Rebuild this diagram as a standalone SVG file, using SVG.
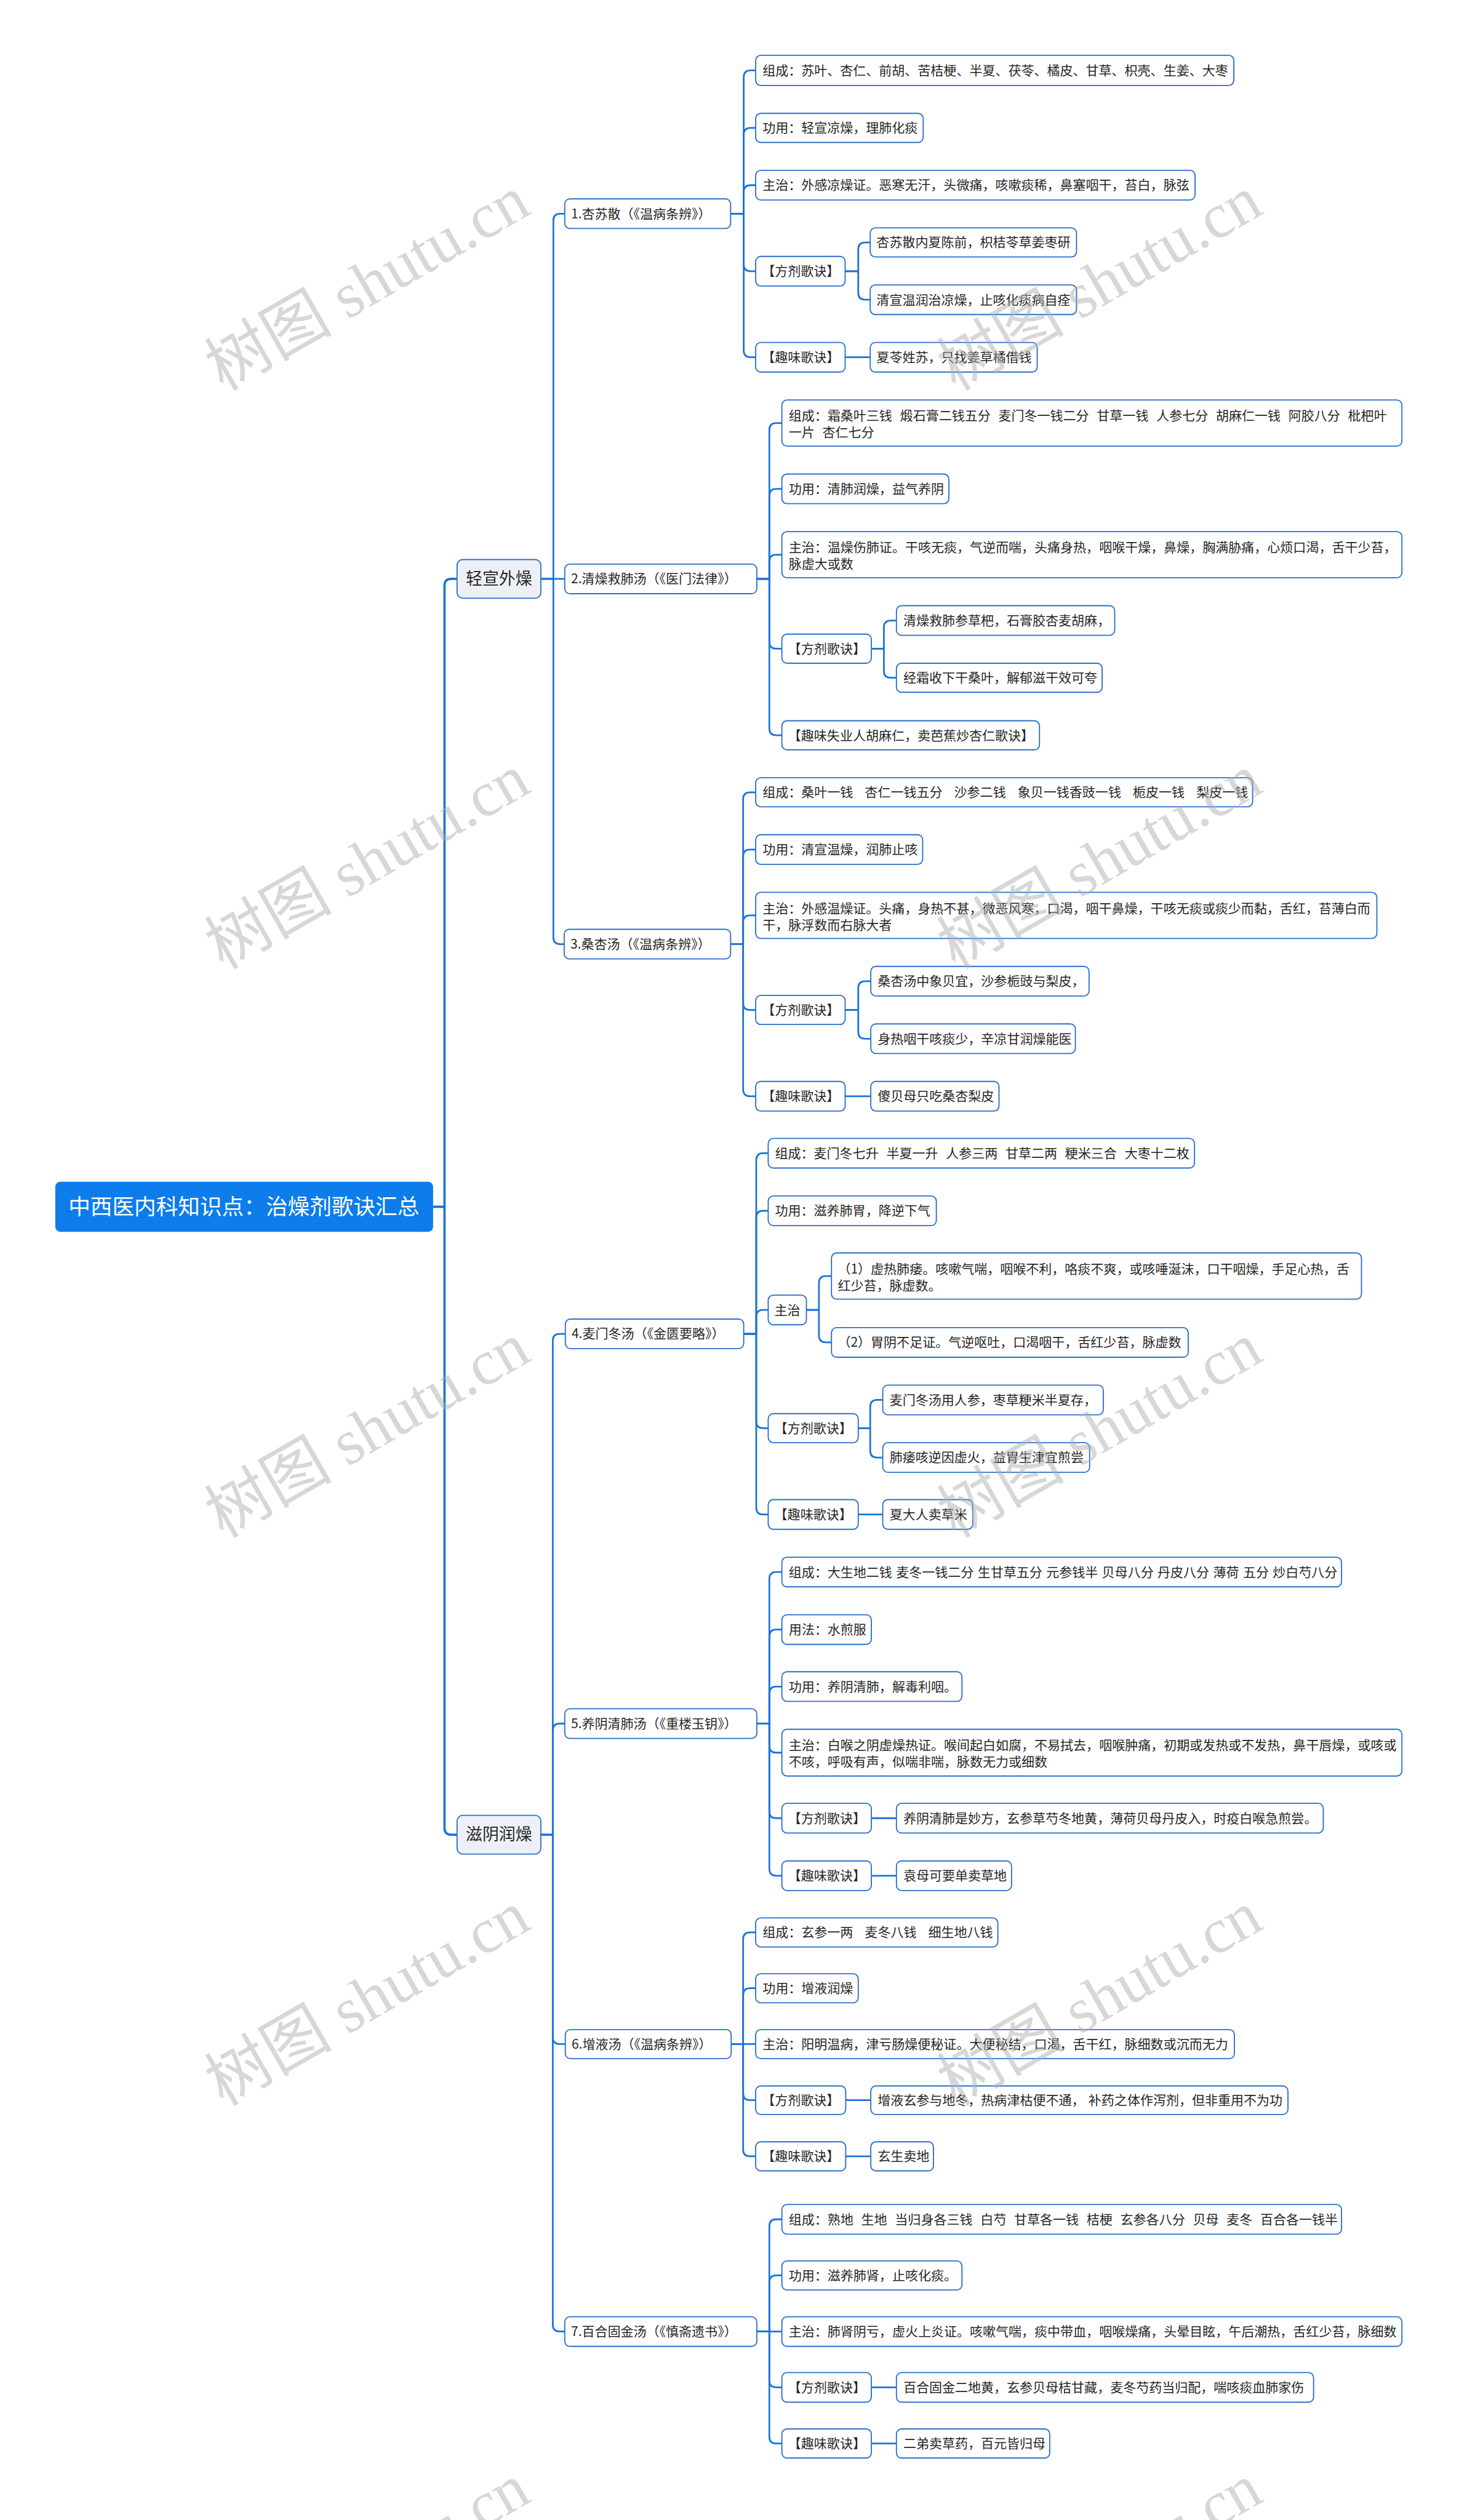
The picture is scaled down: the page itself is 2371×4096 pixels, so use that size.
<svg xmlns="http://www.w3.org/2000/svg" width="2371" height="4096" viewBox="0 0 2371 4096" xml:space="preserve">
<style>
.bg{fill:#ffffff}
.c{fill:none;stroke:#1c74d8;stroke-width:3;stroke-linejoin:round}
.c1{stroke-width:4}
.n rect{fill:#ffffff;stroke:#2a6fc9;stroke-width:2}
.l1 rect{fill:#edf1f7;stroke:#2a6fc9;stroke-width:2}
.root rect{fill:#0c7deb;stroke:none}
text{font-family:"Noto Sans CJK SC","Noto Sans",sans-serif;white-space:pre}
.t{font-size:22.7px;fill:#262626;word-spacing:1.8px}
.t1{font-size:29px;fill:#262626;text-anchor:middle}
.tr{font-size:38.5px;fill:#ffffff}
.wm{font-family:"Liberation Serif","Noto Sans CJK SC",serif;font-size:112px;fill:#b0b0b0;fill-opacity:0.5;text-anchor:middle}
</style>
<rect class="bg" x="0" y="0" width="2371" height="4096"/>
<g transform="scale(0.92612)">
<g id="connectors">
<path class="c c1" d="M760 2118 H780 V1028 Q780 1016 792 1016 H802"/>
<path class="c c1" d="M760 2118 H780 V3208 Q780 3220 792 3220 H802"/>
<path class="c" d="M949 1016 H971 V387 Q971 375 983 375 H991"/>
<path class="c" d="M949 1016 H991"/>
<path class="c" d="M949 1016 H971 V1645 Q971 1657 983 1657 H991"/>
<path class="c" d="M949 3220 H970 V2353 Q970 2341 982 2341 H992"/>
<path class="c" d="M949 3220 H970 V3037 Q970 3025 982 3025 H991"/>
<path class="c" d="M949 3220 H970 V3575.5 Q970 3587.5 982 3587.5 H992"/>
<path class="c" d="M949 3220 H970 V4080 Q970 4092 982 4092 H991"/>
<path class="c" d="M1282 375 H1305 V135.5 Q1305 123.5 1317 123.5 H1326"/>
<path class="c" d="M1282 375 H1305 V236.5 Q1305 224.5 1317 224.5 H1326"/>
<path class="c" d="M1282 375 H1305 V337 Q1305 325 1317 325 H1326"/>
<path class="c" d="M1282 375 H1305 V464 Q1305 476 1317 476 H1326"/>
<path class="c" d="M1282 375 H1305 V615 Q1305 627 1317 627 H1326"/>
<path class="c" d="M1483 476 H1506 V437.5 Q1506 425.5 1518 425.5 H1527"/>
<path class="c" d="M1483 476 H1506 V514 Q1506 526 1518 526 H1527"/>
<path class="c" d="M1483 627 H1527"/>
<path class="c" d="M1328 1016 H1350 V754.5 Q1350 742.5 1362 742.5 H1372"/>
<path class="c" d="M1328 1016 H1350 V870 Q1350 858 1362 858 H1372"/>
<path class="c" d="M1328 1016 H1350 V985.5 Q1350 973.5 1362 973.5 H1372"/>
<path class="c" d="M1328 1016 H1350 V1126.5 Q1350 1138.5 1362 1138.5 H1372"/>
<path class="c" d="M1328 1016 H1350 V1278.5 Q1350 1290.5 1362 1290.5 H1372"/>
<path class="c" d="M1529 1138.5 H1551 V1101 Q1551 1089 1563 1089 H1573"/>
<path class="c" d="M1529 1138.5 H1551 V1177.5 Q1551 1189.5 1563 1189.5 H1573"/>
<path class="c" d="M1282 1657 H1304 V1402.5 Q1304 1390.5 1316 1390.5 H1326"/>
<path class="c" d="M1282 1657 H1304 V1503 Q1304 1491 1316 1491 H1326"/>
<path class="c" d="M1282 1657 H1304 V1618.5 Q1304 1606.5 1316 1606.5 H1326"/>
<path class="c" d="M1282 1657 H1304 V1760.5 Q1304 1772.5 1316 1772.5 H1326"/>
<path class="c" d="M1282 1657 H1304 V1912 Q1304 1924 1316 1924 H1326"/>
<path class="c" d="M1483 1772.5 H1506 V1734 Q1506 1722 1518 1722 H1528"/>
<path class="c" d="M1483 1772.5 H1506 V1811 Q1506 1823 1518 1823 H1528"/>
<path class="c" d="M1483 1924 H1528"/>
<path class="c" d="M1305 2341 H1327 V2036 Q1327 2024 1339 2024 H1348"/>
<path class="c" d="M1305 2341 H1327 V2137 Q1327 2125 1339 2125 H1348"/>
<path class="c" d="M1305 2341 H1327 V2311 Q1327 2299 1339 2299 H1348"/>
<path class="c" d="M1305 2341 H1327 V2494.5 Q1327 2506.5 1339 2506.5 H1348"/>
<path class="c" d="M1305 2341 H1327 V2646 Q1327 2658 1339 2658 H1348"/>
<path class="c" d="M1415 2299 H1437 V2251.5 Q1437 2239.5 1449 2239.5 H1459"/>
<path class="c" d="M1415 2299 H1437 V2344 Q1437 2356 1449 2356 H1459"/>
<path class="c" d="M1506 2506.5 H1527 V2469 Q1527 2457 1539 2457 H1549"/>
<path class="c" d="M1506 2506.5 H1527 V2546 Q1527 2558 1539 2558 H1549"/>
<path class="c" d="M1506 2658 H1549"/>
<path class="c" d="M1328 3025 H1350 V2771 Q1350 2759 1362 2759 H1372"/>
<path class="c" d="M1328 3025 H1350 V2872 Q1350 2860 1362 2860 H1372"/>
<path class="c" d="M1328 3025 H1350 V2972 Q1350 2960 1362 2960 H1372"/>
<path class="c" d="M1328 3025 H1350 V3064 Q1350 3076 1362 3076 H1372"/>
<path class="c" d="M1328 3025 H1350 V3179 Q1350 3191 1362 3191 H1372"/>
<path class="c" d="M1328 3025 H1350 V3280 Q1350 3292 1362 3292 H1372"/>
<path class="c" d="M1529 3191 H1573"/>
<path class="c" d="M1529 3292 H1573"/>
<path class="c" d="M1283 3587.5 H1304 V3403.5 Q1304 3391.5 1316 3391.5 H1326"/>
<path class="c" d="M1283 3587.5 H1304 V3501.5 Q1304 3489.5 1316 3489.5 H1326"/>
<path class="c" d="M1283 3587.5 H1326"/>
<path class="c" d="M1283 3587.5 H1304 V3674 Q1304 3686 1316 3686 H1326"/>
<path class="c" d="M1283 3587.5 H1304 V3772.5 Q1304 3784.5 1316 3784.5 H1326"/>
<path class="c" d="M1484 3686 H1528"/>
<path class="c" d="M1484 3784.5 H1528"/>
<path class="c" d="M1328 4092 H1350 V3907 Q1350 3895 1362 3895 H1372"/>
<path class="c" d="M1328 4092 H1350 V4005.5 Q1350 3993.5 1362 3993.5 H1372"/>
<path class="c" d="M1328 4092 H1372"/>
<path class="c" d="M1328 4092 H1350 V4178 Q1350 4190 1362 4190 H1372"/>
<path class="c" d="M1328 4092 H1350 V4276.5 Q1350 4288.5 1362 4288.5 H1372"/>
<path class="c" d="M1529 4190 H1573"/>
<path class="c" d="M1529 4288.5 H1573"/>
</g>

<g id="root" class="root"><rect x="97" y="2074" width="663" height="88" rx="9"/><text class="tr" x="120" y="2131">中西医内科知识点：治燥剂歌诀汇总</text></g>

<g id="l1a" class="l1"><rect x="802" y="982" width="147" height="68" rx="10"/><text class="t1" x="875.5" y="1026">轻宣外燥</text></g>
<g id="l1b" class="l1"><rect x="802" y="3186" width="147" height="68" rx="10"/><text class="t1" x="875.5" y="3230">滋阴润燥</text></g>

<g id="s1" class="n"><rect x="991" y="349" width="291" height="52" rx="9"/><text class="t" x="1002" y="383">1.杏苏散（《温病条辨》）</text></g>
<g id="s1a" class="n"><rect x="1326" y="97" width="839" height="53" rx="9"/><text class="t" x="1338" y="131.5">组成：苏叶、杏仁、前胡、苦桔梗、半夏、茯苓、橘皮、甘草、枳壳、生姜、大枣</text></g>
<g id="s1b" class="n"><rect x="1326" y="199" width="294" height="51" rx="9"/><text class="t" x="1338" y="232.5">功用：轻宣凉燥，理肺化痰</text></g>
<g id="s1c" class="n"><rect x="1326" y="299" width="771" height="52" rx="9"/><text class="t" x="1338" y="333">主治：外感凉燥证。恶寒无汗，头微痛，咳嗽痰稀，鼻塞咽干，苔白，脉弦</text></g>
<g id="s1d" class="n"><rect x="1326" y="450" width="157" height="52" rx="9"/><text class="t" x="1337" y="484">【方剂歌诀】</text></g>
<g id="s1d1" class="n"><rect x="1527" y="400" width="362" height="51" rx="9"/><text class="t" x="1538" y="433.5">杏苏散内夏陈前，枳桔苓草姜枣研</text></g>
<g id="s1d2" class="n"><rect x="1527" y="500" width="362" height="52" rx="9"/><text class="t" x="1538" y="534">清宣温润治凉燥，止咳化痰病自痊</text></g>
<g id="s1e" class="n"><rect x="1326" y="601" width="157" height="52" rx="9"/><text class="t" x="1337" y="635">【趣味歌诀】</text></g>
<g id="s1e1" class="n"><rect x="1527" y="601" width="293" height="52" rx="9"/><text class="t" x="1538" y="635">夏苓姓苏，只找姜草橘借钱</text></g>

<g id="s2" class="n"><rect x="991" y="990" width="337" height="52" rx="9"/><text class="t" x="1002" y="1024">2.清燥救肺汤（《医门法律》）</text></g>
<g id="s2a" class="n"><rect x="1372" y="702" width="1088" height="81" rx="9"/><text class="t" x="1384" y="738">组成：霜桑叶三钱  煅石膏二钱五分  麦门冬一钱二分  甘草一钱  人参七分  胡麻仁一钱  阿胶八分  枇杷叶</text><text class="t" x="1384" y="767">一片  杏仁七分</text></g>
<g id="s2b" class="n"><rect x="1372" y="832" width="293" height="52" rx="9"/><text class="t" x="1384" y="866">功用：清肺润燥，益气养阴</text></g>
<g id="s2c" class="n"><rect x="1372" y="933" width="1088" height="81" rx="9"/><text class="t" x="1384" y="969">主治：温燥伤肺证。干咳无痰，气逆而喘，头痛身热，咽喉干燥，鼻燥，胸满胁痛，心烦口渴，舌干少苔，</text><text class="t" x="1384" y="998">脉虚大或数</text></g>
<g id="s2d" class="n"><rect x="1372" y="1113" width="157" height="51" rx="9"/><text class="t" x="1383" y="1146.5">【方剂歌诀】</text></g>
<g id="s2d1" class="n"><rect x="1573" y="1063" width="383" height="52" rx="9"/><text class="t" x="1585" y="1097">清燥救肺参草杷，石膏胶杏麦胡麻，</text></g>
<g id="s2d2" class="n"><rect x="1573" y="1164" width="361" height="51" rx="9"/><text class="t" x="1585" y="1197.5">经霜收下干桑叶，解郁滋干效可夸</text></g>
<g id="s2e" class="n"><rect x="1372" y="1265" width="452" height="51" rx="9"/><text class="t" x="1383" y="1298.5">【趣味失业人胡麻仁，卖芭蕉炒杏仁歌诀】</text></g>

<g id="s3" class="n"><rect x="990" y="1631" width="292" height="52" rx="9"/><text class="t" x="1001" y="1665">3.桑杏汤（《温病条辨》）</text></g>
<g id="s3a" class="n"><rect x="1326" y="1365" width="872" height="51" rx="9"/><text class="t" x="1338" y="1398.5">组成：桑叶一钱   杏仁一钱五分   沙参二钱   象贝一钱香豉一钱   栀皮一钱   梨皮一钱</text></g>
<g id="s3b" class="n"><rect x="1326" y="1465" width="293" height="52" rx="9"/><text class="t" x="1338" y="1499">功用：清宣温燥，润肺止咳</text></g>
<g id="s3c" class="n"><rect x="1326" y="1566" width="1090" height="81" rx="9"/><text class="t" x="1338" y="1602">主治：外感温燥证。头痛，身热不甚，微恶风寒，口渴，咽干鼻燥，干咳无痰或痰少而黏，舌红，苔薄白而</text><text class="t" x="1338" y="1631">干，脉浮数而右脉大者</text></g>
<g id="s3d" class="n"><rect x="1326" y="1747" width="157" height="51" rx="9"/><text class="t" x="1337" y="1780.5">【方剂歌诀】</text></g>
<g id="s3d1" class="n"><rect x="1528" y="1696" width="383" height="52" rx="9"/><text class="t" x="1540" y="1730">桑杏汤中象贝宜，沙参栀豉与梨皮，</text></g>
<g id="s3d2" class="n"><rect x="1528" y="1797" width="359" height="52" rx="9"/><text class="t" x="1540" y="1831">身热咽干咳痰少，辛凉甘润燥能医</text></g>
<g id="s3e" class="n"><rect x="1326" y="1898" width="157" height="52" rx="9"/><text class="t" x="1337" y="1932">【趣味歌诀】</text></g>
<g id="s3e1" class="n"><rect x="1528" y="1898" width="225" height="52" rx="9"/><text class="t" x="1540" y="1932">傻贝母只吃桑杏梨皮</text></g>

<g id="s4" class="n"><rect x="992" y="2315" width="313" height="52" rx="9"/><text class="t" x="1003" y="2349">4.麦门冬汤（《金匮要略》）</text></g>
<g id="s4a" class="n"><rect x="1348" y="1998" width="748" height="52" rx="9"/><text class="t" x="1360" y="2032">组成：麦门冬七升  半夏一升  人参三两  甘草二两  粳米三合  大枣十二枚</text></g>
<g id="s4b" class="n"><rect x="1348" y="2099" width="295" height="52" rx="9"/><text class="t" x="1360" y="2133">功用：滋养肺胃，降逆下气</text></g>
<g id="s4c" class="n"><rect x="1348" y="2273" width="67" height="52" rx="9"/><text class="t" x="1359" y="2307">主治</text></g>
<g id="s4c1" class="n"><rect x="1459" y="2199" width="930" height="81" rx="9"/><text class="t" x="1470" y="2235">（1）虚热肺痿。咳嗽气喘，咽喉不利，咯痰不爽，或咳唾涎沫，口干咽燥，手足心热，舌</text><text class="t" x="1470" y="2264">红少苔，脉虚数。</text></g>
<g id="s4c2" class="n"><rect x="1459" y="2330" width="626" height="52" rx="9"/><text class="t" x="1470" y="2364">（2）胃阴不足证。气逆呕吐，口渴咽干，舌红少苔，脉虚数</text></g>
<g id="s4d" class="n"><rect x="1348" y="2481" width="158" height="51" rx="9"/><text class="t" x="1359" y="2514.5">【方剂歌诀】</text></g>
<g id="s4d1" class="n"><rect x="1549" y="2431" width="387" height="52" rx="9"/><text class="t" x="1561" y="2465">麦门冬汤用人参，枣草粳米半夏存，</text></g>
<g id="s4d2" class="n"><rect x="1549" y="2532" width="363" height="52" rx="9"/><text class="t" x="1561" y="2566">肺痿咳逆因虚火，益胃生津宜煎尝</text></g>
<g id="s4e" class="n"><rect x="1348" y="2632" width="158" height="52" rx="9"/><text class="t" x="1359" y="2666">【趣味歌诀】</text></g>
<g id="s4e1" class="n"><rect x="1549" y="2632" width="158" height="52" rx="9"/><text class="t" x="1561" y="2666">夏大人卖草米</text></g>

<g id="s5" class="n"><rect x="991" y="2999" width="337" height="52" rx="9"/><text class="t" x="1002" y="3033">5.养阴清肺汤（《重楼玉钥》）</text></g>
<g id="s5a" class="n"><rect x="1372" y="2733" width="982" height="52" rx="9"/><text class="t" x="1384" y="2767">组成：大生地二钱 麦冬一钱二分 生甘草五分 元参钱半 贝母八分 丹皮八分 薄荷 五分 炒白芍八分</text></g>
<g id="s5b" class="n"><rect x="1372" y="2834" width="157" height="52" rx="9"/><text class="t" x="1384" y="2868">用法：水煎服</text></g>
<g id="s5c" class="n"><rect x="1372" y="2934" width="316" height="52" rx="9"/><text class="t" x="1384" y="2968">功用：养阴清肺，解毒利咽。</text></g>
<g id="s5d" class="n"><rect x="1372" y="3035" width="1088" height="82" rx="9"/><text class="t" x="1384" y="3071">主治：白喉之阴虚燥热证。喉间起白如腐，不易拭去，咽喉肿痛，初期或发热或不发热，鼻干唇燥，或咳或</text><text class="t" x="1384" y="3100">不咳，呼吸有声，似喘非喘，脉数无力或细数</text></g>
<g id="s5e" class="n"><rect x="1372" y="3165" width="157" height="52" rx="9"/><text class="t" x="1383" y="3199">【方剂歌诀】</text></g>
<g id="s5e1" class="n"><rect x="1573" y="3165" width="749" height="52" rx="9"/><text class="t" x="1585" y="3199">养阴清肺是妙方，玄参草芍冬地黄，薄荷贝母丹皮入，时疫白喉急煎尝。</text></g>
<g id="s5f" class="n"><rect x="1372" y="3266" width="157" height="52" rx="9"/><text class="t" x="1383" y="3300">【趣味歌诀】</text></g>
<g id="s5f1" class="n"><rect x="1573" y="3266" width="202" height="52" rx="9"/><text class="t" x="1585" y="3300">袁母可要单卖草地</text></g>

<g id="s6" class="n"><rect x="992" y="3562" width="291" height="51" rx="9"/><text class="t" x="1003" y="3595.5">6.增液汤（《温病条辨》）</text></g>
<g id="s6a" class="n"><rect x="1326" y="3366" width="425" height="51" rx="9"/><text class="t" x="1338" y="3399.5">组成：玄参一两   麦冬八钱   细生地八钱</text></g>
<g id="s6b" class="n"><rect x="1326" y="3464" width="180" height="51" rx="9"/><text class="t" x="1338" y="3497.5">功用：增液润燥</text></g>
<g id="s6c" class="n"><rect x="1326" y="3562" width="840" height="51" rx="9"/><text class="t" x="1338" y="3595.5">主治：阳明温病，津亏肠燥便秘证。大便秘结，口渴，舌干红，脉细数或沉而无力</text></g>
<g id="s6d" class="n"><rect x="1326" y="3661" width="158" height="50" rx="9"/><text class="t" x="1337" y="3694">【方剂歌诀】</text></g>
<g id="s6d1" class="n"><rect x="1528" y="3661" width="732" height="50" rx="9"/><text class="t" x="1540" y="3694">增液玄参与地冬，热病津枯便不通， 补药之体作泻剂，但非重用不为功</text></g>
<g id="s6e" class="n"><rect x="1326" y="3759" width="158" height="51" rx="9"/><text class="t" x="1337" y="3792.5">【趣味歌诀】</text></g>
<g id="s6e1" class="n"><rect x="1528" y="3759" width="110" height="51" rx="9"/><text class="t" x="1540" y="3792.5">玄生卖地</text></g>

<g id="s7" class="n"><rect x="991" y="4066" width="337" height="52" rx="9"/><text class="t" x="1002" y="4100">7.百合固金汤（《慎斋遗书》）</text></g>
<g id="s7a" class="n"><rect x="1372" y="3869" width="982" height="52" rx="9"/><text class="t" x="1384" y="3903">组成：熟地  生地  当归身各三钱  白芍  甘草各一钱  桔梗  玄参各八分  贝母  麦冬  百合各一钱半</text></g>
<g id="s7b" class="n"><rect x="1372" y="3968" width="316" height="51" rx="9"/><text class="t" x="1384" y="4001.5">功用：滋养肺肾，止咳化痰。</text></g>
<g id="s7c" class="n"><rect x="1372" y="4066" width="1088" height="52" rx="9"/><text class="t" x="1384" y="4100">主治：肺肾阴亏，虚火上炎证。咳嗽气喘，痰中带血，咽喉燥痛，头晕目眩，午后潮热，舌红少苔，脉细数</text></g>
<g id="s7d" class="n"><rect x="1372" y="4164" width="157" height="52" rx="9"/><text class="t" x="1383" y="4198">【方剂歌诀】</text></g>
<g id="s7d1" class="n"><rect x="1573" y="4164" width="732" height="52" rx="9"/><text class="t" x="1585" y="4198">百合固金二地黄，玄参贝母桔甘藏，麦冬芍药当归配，喘咳痰血肺家伤</text></g>
<g id="s7e" class="n"><rect x="1372" y="4263" width="157" height="51" rx="9"/><text class="t" x="1383" y="4296.5">【趣味歌诀】</text></g>
<g id="s7e1" class="n"><rect x="1573" y="4263" width="269" height="51" rx="9"/><text class="t" x="1585" y="4296.5">二弟卖草药，百元皆归母</text></g>

<g id="watermarks">
<text class="wm" x="646" y="535" transform="rotate(-30 646 500)">树图 shutu.cn</text>
<text class="wm" x="1931" y="535" transform="rotate(-30 1931 500)">树图 shutu.cn</text>
<text class="wm" x="646" y="1550" transform="rotate(-30 646 1515)">树图 shutu.cn</text>
<text class="wm" x="1931" y="1550" transform="rotate(-30 1931 1515)">树图 shutu.cn</text>
<text class="wm" x="646" y="2548" transform="rotate(-30 646 2513)">树图 shutu.cn</text>
<text class="wm" x="1931" y="2548" transform="rotate(-30 1931 2513)">树图 shutu.cn</text>
<text class="wm" x="646" y="3545" transform="rotate(-30 646 3510)">树图 shutu.cn</text>
<text class="wm" x="1931" y="3545" transform="rotate(-30 1931 3510)">树图 shutu.cn</text>
<text class="wm" x="646" y="4550" transform="rotate(-30 646 4515)">树图 shutu.cn</text>
<text class="wm" x="1931" y="4550" transform="rotate(-30 1931 4515)">树图 shutu.cn</text>
</g>
</g>
</svg>
